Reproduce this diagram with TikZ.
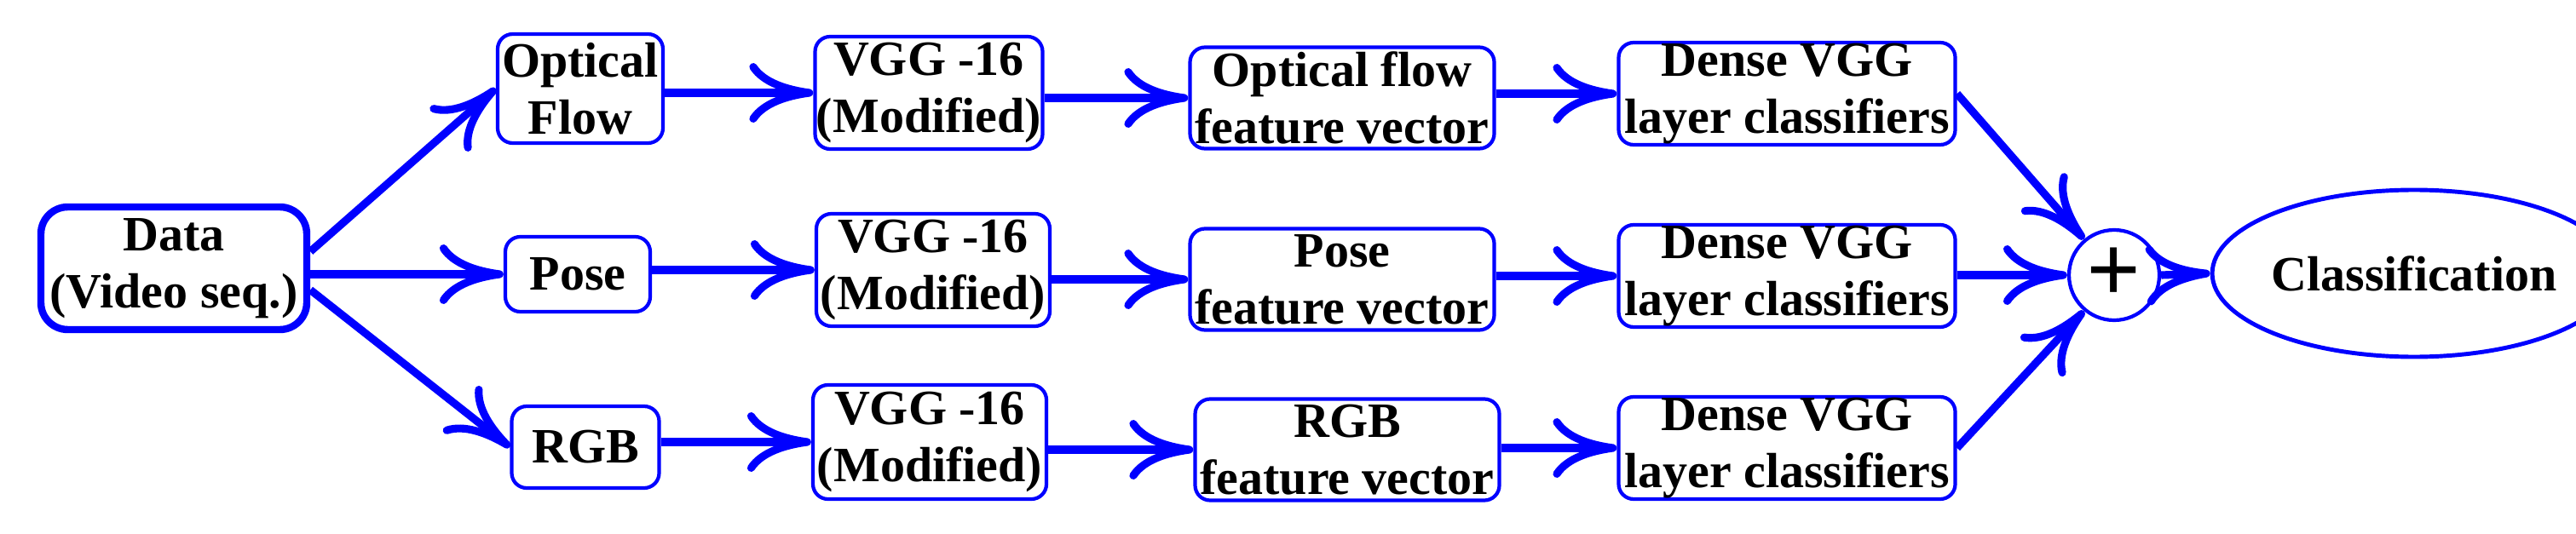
\documentclass[tikz,border=0pt]{standalone}
\usepackage{fontspec}
\setmainfont{Liberation Serif}
\usetikzlibrary{arrows.meta,shapes.geometric}
\begin{document}
\begin{tikzpicture}[blk/.style={draw=blue,line width=1.2pt,rounded corners=5pt,align=center,inner sep=0pt,font=\bfseries\fontsize{16.5}{19}\selectfont},
link/.style={blue,line width=2.6pt,-{Computer Modern Rightarrow[length=7.5mm,width=7mm]}}]
\useasboundingbox (0,0) rectangle (30.23,6.26);
\node[blk,line width=2.4pt,rounded corners=9pt,minimum width=3.12cm,minimum height=1.44cm] (data) at (2.04,3.11) {Data\\(Video seq.)};
\node[blk,minimum width=1.94cm,minimum height=1.28cm] (of) at (6.81,5.22) {Optical\\Flow};
\node[blk,minimum width=1.70cm,minimum height=0.88cm] (pose) at (6.78,3.04) {Pose};
\node[blk,minimum width=1.73cm,minimum height=0.96cm] (rgb) at (6.87,1.01) {RGB};
\node[blk,minimum width=2.67cm,minimum height=1.32cm] (vgg1) at (10.90,5.17) {VGG -16\\(Modified)};
\node[blk,minimum width=2.74cm,minimum height=1.32cm] (vgg2) at (10.95,3.09) {VGG -16\\(Modified)};
\node[blk,minimum width=2.74cm,minimum height=1.34cm] (vgg3) at (10.91,1.07) {VGG -16\\(Modified)};
\node[blk,minimum width=3.57cm,minimum height=1.19cm] (fv1) at (15.75,5.11) {Optical flow\\feature vector};
\node[blk,minimum width=3.57cm,minimum height=1.19cm] (fv2) at (15.75,2.98) {Pose\\feature vector};
\node[blk,minimum width=3.57cm,minimum height=1.19cm] (fv3) at (15.81,0.98) {RGB\\feature vector};
\foreach \i/\y in {1/5.16,2/3.02,3/1.00}
  \node[blk,minimum width=3.95cm,minimum height=1.20cm] (dn\i) at (20.97,\y) {Dense VGG\\layer classifiers};
\node[circle,draw=blue,line width=1.2pt,minimum size=1.06cm,inner sep=0pt,font=\bfseries\fontsize{32}{32}\selectfont] (plus) at (24.81,3.03) {+};
\node[ellipse,draw=blue,line width=1.4pt,minimum width=3.55cm,minimum height=1.96cm,inner sep=0pt,font=\bfseries\fontsize{16.5}{19}\selectfont] (cls) at (28.33,3.05) {Classification};
\draw[link] (data.7) -- (of.west);
\draw[link] (data.east |- pose.west) -- (pose.west);
\draw[link] (data.-9) -- (rgb.west);
\foreach \a/\b in {of/vgg1,pose/vgg2,rgb/vgg3,vgg1/fv1,vgg2/fv2,vgg3/fv3,fv1/dn1,fv2/dn2,fv3/dn3}
  \draw[link] (\a.east |- \b.west) -- (\b.west);
\draw[link] (dn1.east) -- (plus.130);
\draw[link] (dn2.east |- plus.west) -- (plus.west);
\draw[link] (dn3.east) -- (plus.230);
\draw[link] (plus.east) -- (cls.west);
\end{tikzpicture}
\end{document}
